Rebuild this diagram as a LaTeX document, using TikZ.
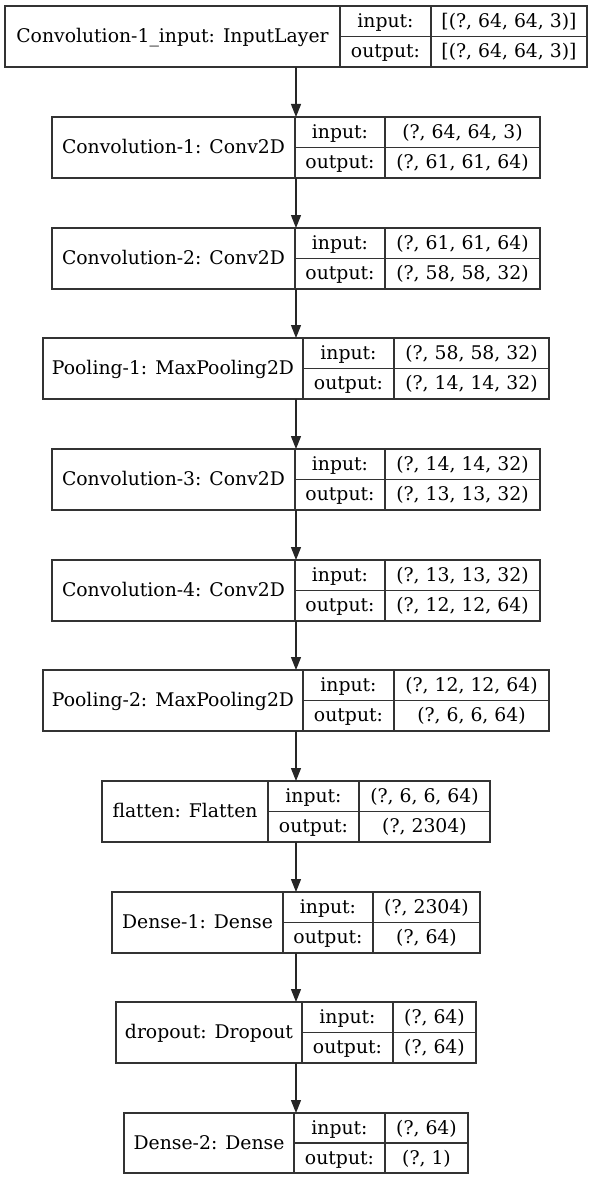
\documentclass[tikz,border=0pt]{standalone}
\usepackage{fontspec}
\setmainfont{DejaVu Serif}
\usetikzlibrary{arrows.meta}
\tikzset{
  box/.style={draw=black!80, line width=1.1pt, rectangle, inner sep=0pt, outer sep=0pt},
  cellline/.style={draw=black!80, line width=1.1pt},
  txt/.style={anchor=base, inner sep=0pt, font=\fontsize{18.8}{22}\selectfont},
  arr/.style={draw=black!85, line width=1.1pt, -{Triangle[length=13pt,width=10pt]}, shorten >=0pt}
}
% #1 name, #2 left, #3 d1, #4 d2, #5 right, #6 top, #7 bottom, #8 label, #9 input value; \outv = output value
\newcommand\mylayer[9]{%
  \node[box, minimum width={(#5-#2)*1pt}, minimum height={(#7-#6)*1pt}] (#1) at ({(#2+#5)/2},{(#6+#7)/2}) {};
  \draw[cellline] (#3,#6) -- (#3,#7) (#4,#6) -- (#4,#7) (#3,{(#6+#7)/2}) -- (#5,{(#6+#7)/2});
  \node[txt] (#1-name) at ({(#2+#3)/2},{(#6+#7)/2+6}) {#8};
  \node[txt] (#1-ik) at ({(#3+#4)/2},{(3*#6+#7)/4+6}) {input:};
  \node[txt] (#1-ok) at ({(#3+#4)/2},{(#6+3*#7)/4+6}) {output:};
  \node[txt] (#1-iv) at ({(#4+#5)/2},{(3*#6+#7)/4+6}) {#9};
  \node[txt] (#1-ov) at ({(#4+#5)/2},{(#6+3*#7)/4+6}) {\outv};
}
\begin{document}
\begin{tikzpicture}[x=1pt,y=-1pt]
\useasboundingbox[fill=white] (0,0) rectangle (592,1180);
\def\outv{[(?, 64, 64, 3)]}
\mylayer{b1}{5}{340}{431}{587}{6}{67}{Convolution-1\_input: InputLayer}{[(?, 64, 64, 3)]}
\def\outv{(?, 61, 61, 64)}
\mylayer{b2}{52}{295}{385}{540}{117}{178}{Convolution-1: Conv2D}{(?, 64, 64, 3)}
\def\outv{(?, 58, 58, 32)}
\mylayer{b3}{52}{295}{385}{540}{228}{289}{Convolution-2: Conv2D}{(?, 61, 61, 64)}
\def\outv{(?, 14, 14, 32)}
\mylayer{b4}{43}{303}{394}{549}{338}{399}{Pooling-1: MaxPooling2D}{(?, 58, 58, 32)}
\def\outv{(?, 13, 13, 32)}
\mylayer{b5}{52}{295}{385}{540}{449}{510}{Convolution-3: Conv2D}{(?, 14, 14, 32)}
\def\outv{(?, 12, 12, 64)}
\mylayer{b6}{52}{295}{385}{540}{560}{621}{Convolution-4: Conv2D}{(?, 13, 13, 32)}
\def\outv{(?, 6, 6, 64)}
\mylayer{b7}{43}{303}{394}{549}{670}{731}{Pooling-2: MaxPooling2D}{(?, 12, 12, 64)}
\def\outv{(?, 2304)}
\mylayer{b8}{102}{268}{359}{490}{781}{842}{flatten: Flatten}{(?, 6, 6, 64)}
\def\outv{(?, 64)}
\mylayer{b9}{112}{283}{373}{480}{892}{953}{Dense-1: Dense}{(?, 2304)}
\def\outv{(?, 64)}
\mylayer{b10}{116}{302}{393}{476}{1002}{1063}{dropout: Dropout}{(?, 64)}
\def\outv{(?, 1)}
\mylayer{b11}{124}{294}{385}{468}{1113}{1173}{Dense-2: Dense}{(?, 64)}
\foreach \a/\b in {b1/b2,b2/b3,b3/b4,b4/b5,b5/b6,b6/b7,b7/b8,b8/b9,b9/b10,b10/b11}
  \draw[arr] (\a.south) -- (\b.north);
\end{tikzpicture}
\end{document}
